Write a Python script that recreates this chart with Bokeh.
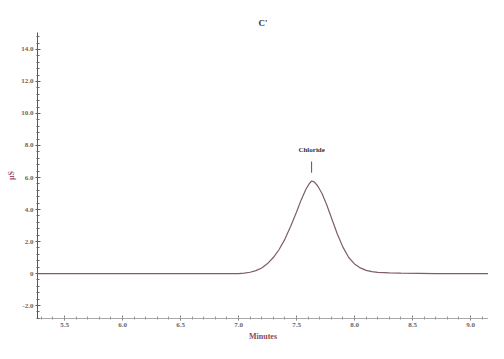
from bokeh.plotting import figure
from bokeh.models import Range1d, FixedTicker
from bokeh.embed import file_html
from bokeh.resources import INLINE

# Chromatogram trace (minutes, µS)
time_min = [5.27, 6.0, 6.5, 7.0, 7.05, 7.10, 7.15, 7.20, 7.25, 7.30, 7.35,
            7.40, 7.45, 7.50, 7.54, 7.58, 7.61, 7.63, 7.65, 7.68, 7.72,
            7.76, 7.80, 7.85, 7.90, 7.95, 8.00, 8.05, 8.10, 8.15, 8.20,
            8.30, 8.40, 8.70, 9.16]
conductivity = [0.0, 0.0, 0.0, 0.0, 0.03, 0.08, 0.18, 0.35, 0.62, 1.0, 1.5,
                2.15, 2.95, 3.85, 4.6, 5.25, 5.62, 5.78, 5.74, 5.5, 5.0,
                4.3, 3.5, 2.5, 1.65, 1.0, 0.6, 0.35, 0.2, 0.12, 0.07,
                0.04, 0.02, 0.0, 0.0]

peak_name = ["Chloride"]
peak_time = [7.63]
peak_label_y = [7.45]

x_ticks = [5.5, 6.0, 6.5, 7.0, 7.5, 8.0, 8.5, 9.0]
x_tick_labels = {5.5: "5.5", 6.0: "6.0", 6.5: "6.5", 7.0: "7.0", 7.5: "7.5",
                 8.0: "8.0", 8.5: "8.5", 9.0: "9.0"}
y_ticks = [-2.0, 0.0, 2.0, 4.0, 6.0, 8.0, 10.0, 12.0, 14.0]
y_tick_labels = {-2.0: "-2.0", 0.0: "0", 2.0: "2.0", 4.0: "4.0", 6.0: "6.0",
                 8.0: "8.0", 10.0: "10.0", 12.0: "12.0", 14.0: "14.0"}

p = figure(width=488, height=343, output_backend="svg", toolbar_location=None,
           x_range=Range1d(5.267, 9.155), y_range=Range1d(-2.81, 15.06),
           title="C'", min_border_left=37, min_border_right=0,
           min_border_top=32, min_border_bottom=25)
p.background_fill_color = "white"
p.border_fill_color = "white"
p.outline_line_color = None
p.grid.visible = False

p.title.align = "center"
p.title.text_font = "Liberation Serif"
p.title.text_font_size = "9px"
p.title.text_color = "#333333"
p.title.offset = 0

p.line(time_min, conductivity, line_color="#7d5d66", line_width=1.2)

# peak annotation
p.text(x=peak_time, y=peak_label_y, text=peak_name, text_align="center",
       text_baseline="bottom", text_font_size="7px", text_color="#333333",
       text_font_style="bold", text_font={"value": "Liberation Serif"})
p.segment(x0=peak_time, y0=[7.0], x1=peak_time, y1=[6.3],
          line_color="#555555", line_width=1)

for ax in (p.xaxis[0], p.yaxis[0]):
    ax.major_label_text_font = "Liberation Serif"
    ax.major_label_text_font_size = "7px"
    ax.major_label_text_font_style = "bold"
    ax.major_label_text_color = "#666666"
    ax.axis_label_text_font = "Liberation Serif"
    ax.axis_label_text_font_size = "8px"
    ax.axis_label_text_font_style = "bold"
    ax.major_tick_in = 3
    ax.major_tick_out = 2
    ax.minor_tick_in = 2
    ax.minor_tick_out = 1

p.xaxis.ticker = FixedTicker(ticks=x_ticks,
                             minor_ticks=[round(5.3 + 0.1 * i, 2) for i in range(39)])
p.xaxis.major_label_overrides = x_tick_labels
p.xaxis.axis_label = "Minutes"
p.xaxis.axis_label_text_color = "#8a4a55"
p.xaxis.axis_label_standoff = 2
p.xaxis.major_label_standoff = 2
p.xaxis.axis_line_color = "#aaaaaa"
p.xaxis.major_tick_line_color = "#777777"
p.xaxis.minor_tick_line_color = "#999999"

p.yaxis.ticker = FixedTicker(ticks=y_ticks,
                             minor_ticks=[round(-2.8 + 0.4 * i, 2) for i in range(45)])
p.yaxis.major_label_overrides = y_tick_labels
p.yaxis.axis_label = "µS"
p.yaxis.axis_label_text_color = "#a05565"
p.yaxis.axis_label_standoff = 2
p.yaxis.major_label_standoff = 2
p.yaxis.axis_line_color = "#555555"
p.yaxis.major_tick_line_color = "#555555"
p.yaxis.minor_tick_line_color = "#666666"

open("out.html", "w").write(file_html(p, INLINE))
